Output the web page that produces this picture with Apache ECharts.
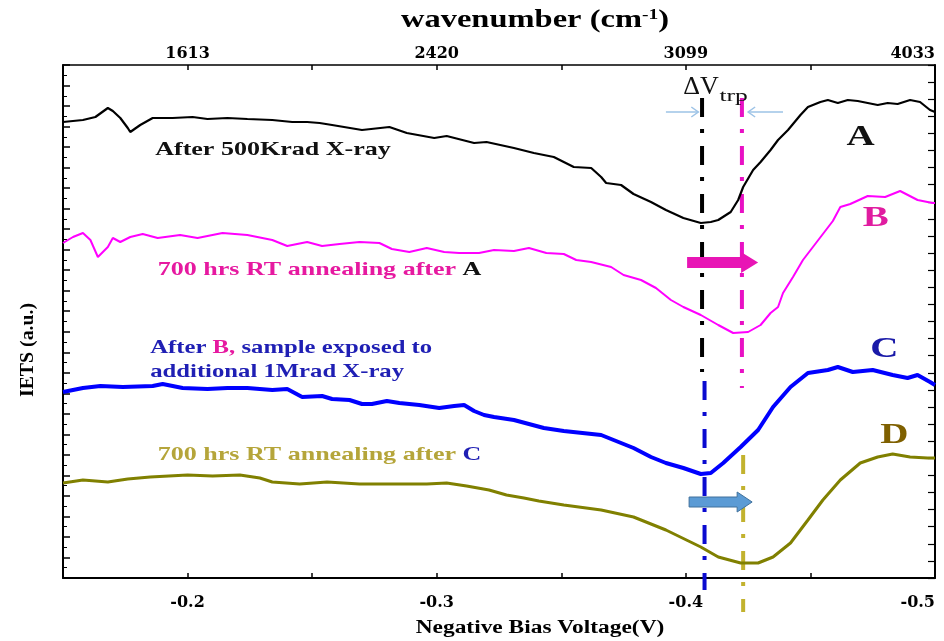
<!DOCTYPE html>
<html><head><meta charset="utf-8">
<script src="https://cdn.jsdelivr.net/npm/echarts@6/dist/echarts.min.js"></script>
<style>html,body{margin:0;padding:0;background:#fff}#c{width:944px;height:641px}</style>
</head><body><div id="c"></div>
<script>
// x = |bias voltage| (V), y = IETS (arbitrary units)
const curveA = [[0.150,456],[0.158,458],[0.163,461],[0.168,470],[0.170,467],[0.173,460],[0.176,450],[0.177,446],[0.181,453],[0.186,460],[0.194,460],[0.202,461],[0.208,459],[0.216,460],[0.224,459],[0.234,458],[0.242,456],[0.248,456],[0.253,455],[0.258,453],[0.270,448],[0.281,451],[0.288,445],[0.299,440],[0.304,442],[0.315,435],[0.320,436],[0.331,430],[0.339,425],[0.347,421],[0.355,411],[0.362,410],[0.366,401],[0.368,395],[0.374,393],[0.379,384],[0.386,376],[0.392,368],[0.399,360],[0.406,355],[0.410,356],[0.413,358],[0.418,366],[0.421,378],[0.423,391],[0.427,408],[0.430,416],[0.434,428],[0.437,438],[0.441,448],[0.443,454],[0.446,463],[0.449,471],[0.454,476],[0.457,478],[0.461,475],[0.465,478],[0.469,477],[0.473,475],[0.477,473],[0.481,475],[0.485,474],[0.490,478],[0.494,476],[0.498,468],[0.500,466]];
const curveB = [[0.150,335],[0.154,341],[0.158,345],[0.161,338],[0.164,321],[0.168,331],[0.170,340],[0.173,336],[0.177,341],[0.182,344],[0.188,340],[0.197,343],[0.204,340],[0.214,345],[0.224,343],[0.234,338],[0.240,332],[0.248,336],[0.254,332],[0.261,334],[0.269,336],[0.277,335],[0.282,329],[0.289,326],[0.296,330],[0.303,326],[0.309,325],[0.317,325],[0.323,328],[0.331,327],[0.337,330],[0.344,325],[0.351,324],[0.356,318],[0.362,316],[0.370,311],[0.375,303],[0.382,298],[0.388,290],[0.394,278],[0.399,271],[0.406,263],[0.413,253],[0.419,245],[0.425,246],[0.430,253],[0.434,265],[0.437,271],[0.439,285],[0.443,301],[0.447,318],[0.451,331],[0.455,344],[0.459,357],[0.462,371],[0.466,374],[0.473,382],[0.480,381],[0.486,387],[0.493,378],[0.499,375],[0.500,375]];
const curveC = [[0.150,186],[0.158,190],[0.165,192],[0.174,191],[0.186,192],[0.190,194],[0.198,190],[0.208,189],[0.216,190],[0.224,190],[0.234,188],[0.240,189],[0.246,181],[0.254,182],[0.258,179],[0.265,178],[0.270,174],[0.274,174],[0.280,177],[0.285,175],[0.293,173],[0.301,170],[0.307,172],[0.311,173],[0.315,167],[0.319,163],[0.323,161],[0.331,158],[0.337,154],[0.343,150],[0.351,147],[0.366,143],[0.371,138],[0.379,130],[0.386,121],[0.392,115],[0.399,110],[0.406,104],[0.410,105],[0.415,115],[0.422,131],[0.429,148],[0.435,171],[0.442,191],[0.449,205],[0.457,208],[0.461,211],[0.467,206],[0.475,208],[0.483,203],[0.489,200],[0.493,203],[0.498,196],[0.500,193]];
const curveD = [[0.150,95],[0.158,98],[0.168,96],[0.176,99],[0.185,101],[0.200,103],[0.210,102],[0.221,103],[0.229,100],[0.234,96],[0.245,94],[0.256,96],[0.269,94],[0.282,94],[0.296,94],[0.304,95],[0.312,92],[0.321,88],[0.328,83],[0.335,80],[0.341,77],[0.351,73],[0.366,68],[0.379,61],[0.392,48],[0.406,31],[0.413,21],[0.422,15],[0.429,15],[0.435,21],[0.442,35],[0.449,58],[0.455,78],[0.462,98],[0.470,115],[0.477,121],[0.483,124],[0.490,121],[0.497,120],[0.500,120]];
// peak-position markers (dash-dot verticals)
const markA = [[0.4065,480],[0.4065,206]];
const markB = [[0.4225,480],[0.4225,190]];
const markC = [[0.4075,197],[0.4075,-12]];
const markD = [[0.4230,123],[0.4230,-34]];
// tick labels
const bottomTickValues = [0.2,0.3,0.4,0.5];
const bottomTickLabels = ['-0.2','-0.3','-0.4','-0.5'];
const topTickLabels = ['1613','2420','3099','4033'];
const minorTickValues = [0.2,0.25,0.3,0.35,0.4,0.45];

const SERIF = "'Liberation Serif','Times New Roman',serif";
const chart = echarts.init(document.getElementById('c'));
function labelFor(v, arr){
  let best=0, d=1e9;
  bottomTickValues.forEach((t,i)=>{ if(Math.abs(t-v)<d){d=Math.abs(t-v);best=i;} });
  return arr[best];
}
const dashDot = [19,12,4,13];
function vline(data,color){
  return {type:'line',data:data,showSymbol:false,symbol:'none',clip:false,silent:true,
    lineStyle:{color:color,width:4,type:dashDot},z:3};
}
const xCommon = {type:'value',min:0.15,max:0.5,interval:0.05,splitLine:{show:false},
  axisLine:{onZero:false,lineStyle:{color:'#000',width:2}},
  axisTick:{inside:true,length:5,customValues:minorTickValues,lineStyle:{color:'#000',width:1.5}}};
chart.setOption({
  animation:false,
  backgroundColor:'#fff',
  grid:{left:63,right:9,top:65,bottom:63},
  xAxis:[
    Object.assign({},xCommon,{position:'bottom',
      axisLabel:{customValues:bottomTickValues,formatter:v=>labelFor(v,bottomTickLabels),margin:17,
        fontFamily:"'DejaVu Serif',serif",fontWeight:'bold',fontSize:16,color:'#000',alignMaxLabel:'right'}}),
    Object.assign({},xCommon,{position:'top',
      axisLine:{onZero:false,lineStyle:{color:'#000',width:1.5}},
      axisLabel:{customValues:bottomTickValues,formatter:v=>labelFor(v,topTickLabels),margin:3,
        fontFamily:"'DejaVu Serif',serif",fontWeight:'bold',fontSize:16,color:'#000',alignMaxLabel:'right'}})
  ],
  yAxis:[
    {type:'value',min:0,max:513,interval:20.52,position:'left',splitLine:{show:false},
      axisLine:{onZero:false,lineStyle:{color:'#000',width:2}},
      axisTick:{inside:true,length:7,lineStyle:{color:'#000',width:1.5}},
      minorTick:{show:true,splitNumber:2,length:4,lineStyle:{color:'#000',width:1}},
      axisLabel:{show:false}},
    {type:'value',min:0,max:513,interval:17.1,position:'right',splitLine:{show:false},
      axisLine:{onZero:false,lineStyle:{color:'#000',width:2}},
      axisTick:{inside:true,length:7,lineStyle:{color:'#000',width:1.2}},
      axisLabel:{show:false}}
  ],
  series:[
    {type:'line',name:'A',data:curveA,showSymbol:false,symbol:'none',lineStyle:{color:'#000',width:2.2},z:4},
    {type:'line',name:'B',data:curveB,showSymbol:false,symbol:'none',lineStyle:{color:'#ff00ff',width:2},z:4},
    {type:'line',name:'C',data:curveC,showSymbol:false,symbol:'none',lineStyle:{color:'#0000ff',width:4},z:4},
    {type:'line',name:'D',data:curveD,showSymbol:false,symbol:'none',lineStyle:{color:'#808000',width:3},z:4},
    vline(markA,'#000000'),
    vline(markB,'#e811c4'),
    vline(markC,'#0a0ad0'),
    vline(markD,'#c2b22e')
  ]
});

function px(x,y){ return chart.convertToPixel({xAxisIndex:0,yAxisIndex:0},[x,y]); }
function txt(x,y,text,rich,opt){
  const p = px(x,y);
  return Object.assign({type:'text',x:p[0],y:p[1],z:20,
    style:{text:text,rich:rich,verticalAlign:'middle',align:'left',font:"bold 19px "+SERIF}},opt||{});
}
function richDef(color,size,weight){ return {fill:color,fontSize:size||19,fontWeight:weight||'bold',fontFamily:SERIF}; }
function blockArrow(x0,x1,yv,bodyH,headH,headL,fill,stroke){
  const a=px(x0,yv), b=px(x1,yv);
  const yc=a[1], xs=a[0], xt=b[0], xh=xt-headL;
  return {type:'polygon',z:15,shape:{points:[[xs,yc-bodyH],[xh,yc-bodyH],[xh,yc-headH],[xt,yc],[xh,yc+headH],[xh,yc+bodyH],[xs,yc+bodyH]]},
    style:{fill:fill,stroke:stroke||null,lineWidth:stroke?1:0}};
}
function thinArrow(x0,x1,yv,color){
  const a=px(x0,yv), b=px(x1,yv);
  const dir = b[0]>a[0]?1:-1;
  return [
    {type:'line',z:15,shape:{x1:a[0],y1:a[1],x2:b[0],y2:b[1]},style:{stroke:color,lineWidth:1.5}},
    {type:'polyline',z:15,shape:{points:[[b[0]-dir*7,b[1]-5],[b[0],b[1]],[b[0]-dir*7,b[1]+5]]},style:{stroke:color,lineWidth:1.5,fill:null}}
  ];
}
const SX = 1.37;
const graphics = [
  txt(0.187,428,'{k|After 500Krad X-ray}',{k:richDef('#111')},{scaleX:SX}),
  txt(0.188,308,'{m|700 hrs RT annealing after }{k|A}',{m:richDef('#e619a0'),k:richDef('#111')},{scaleX:SX}),
  txt(0.185,230,'{b|After }{m|B,}{b| sample exposed to}',{b:richDef('#1f1fb4'),m:richDef('#e619a0')},{scaleX:1.3}),
  txt(0.185,206,'{b|additional 1Mrad X-ray}',{b:richDef('#1f1fb4')},{scaleX:1.3}),
  txt(0.188,123,'{o|700 hrs RT annealing after }{b|C}',{o:richDef('#b5a53a'),b:richDef('#1f1fb4')},{scaleX:SX}),
  txt(0.4645,441,'{k|A}',{k:richDef('#111',30)},{scaleX:1.3}),
  txt(0.471,360,'{k|B}',{k:richDef('#e01ca0',30)},{scaleX:1.3}),
  txt(0.474,229,'{k|C}',{k:richDef('#1a1aa8',30)},{scaleX:1.3}),
  txt(0.478,143,'{k|D}',{k:richDef('#7f6000',30)},{scaleX:1.3}),
  txt(0.399,491,'{k|ΔV}',{k:richDef('#111',26,'normal')},{}),
  txt(0.4135,481,'{k|trp}',{k:richDef('#111',17,'normal')},{scaleX:1.5}),
  blockArrow(0.4005,0.429,315.5,5.5,10.5,17,'#e815b5'),
  blockArrow(0.4013,0.4266,76,5,10,15,'#5b9bd5','#41719c'),
  ...thinArrow(0.392,0.405,466,'#9dc3e6'),
  ...thinArrow(0.439,0.425,466,'#9dc3e6'),
  {type:'text',x:535,y:21,scaleX:1.3,z:20,style:{text:'{t|wavenumber (cm}{s|-1}{t|)}',align:'center',verticalAlign:'middle',
    rich:{t:{fill:'#000',fontSize:25,fontWeight:'bold',fontFamily:SERIF},s:{fill:'#000',fontSize:15,fontWeight:'bold',fontFamily:SERIF,padding:[0,0,12,0]}}}},
  {type:'text',x:540,y:628,scaleX:1.3,z:20,style:{text:'Negative Bias Voltage(V)',align:'center',verticalAlign:'middle',fill:'#000',font:"bold 18px "+SERIF}},
  {type:'text',x:28,y:350,rotation:Math.PI/2,scaleX:1.1,z:20,style:{text:'IETS (a.u.)',align:'center',verticalAlign:'middle',fill:'#000',font:"bold 18px "+SERIF}}
];
chart.setOption({graphic:graphics});
</script>
</body></html>
